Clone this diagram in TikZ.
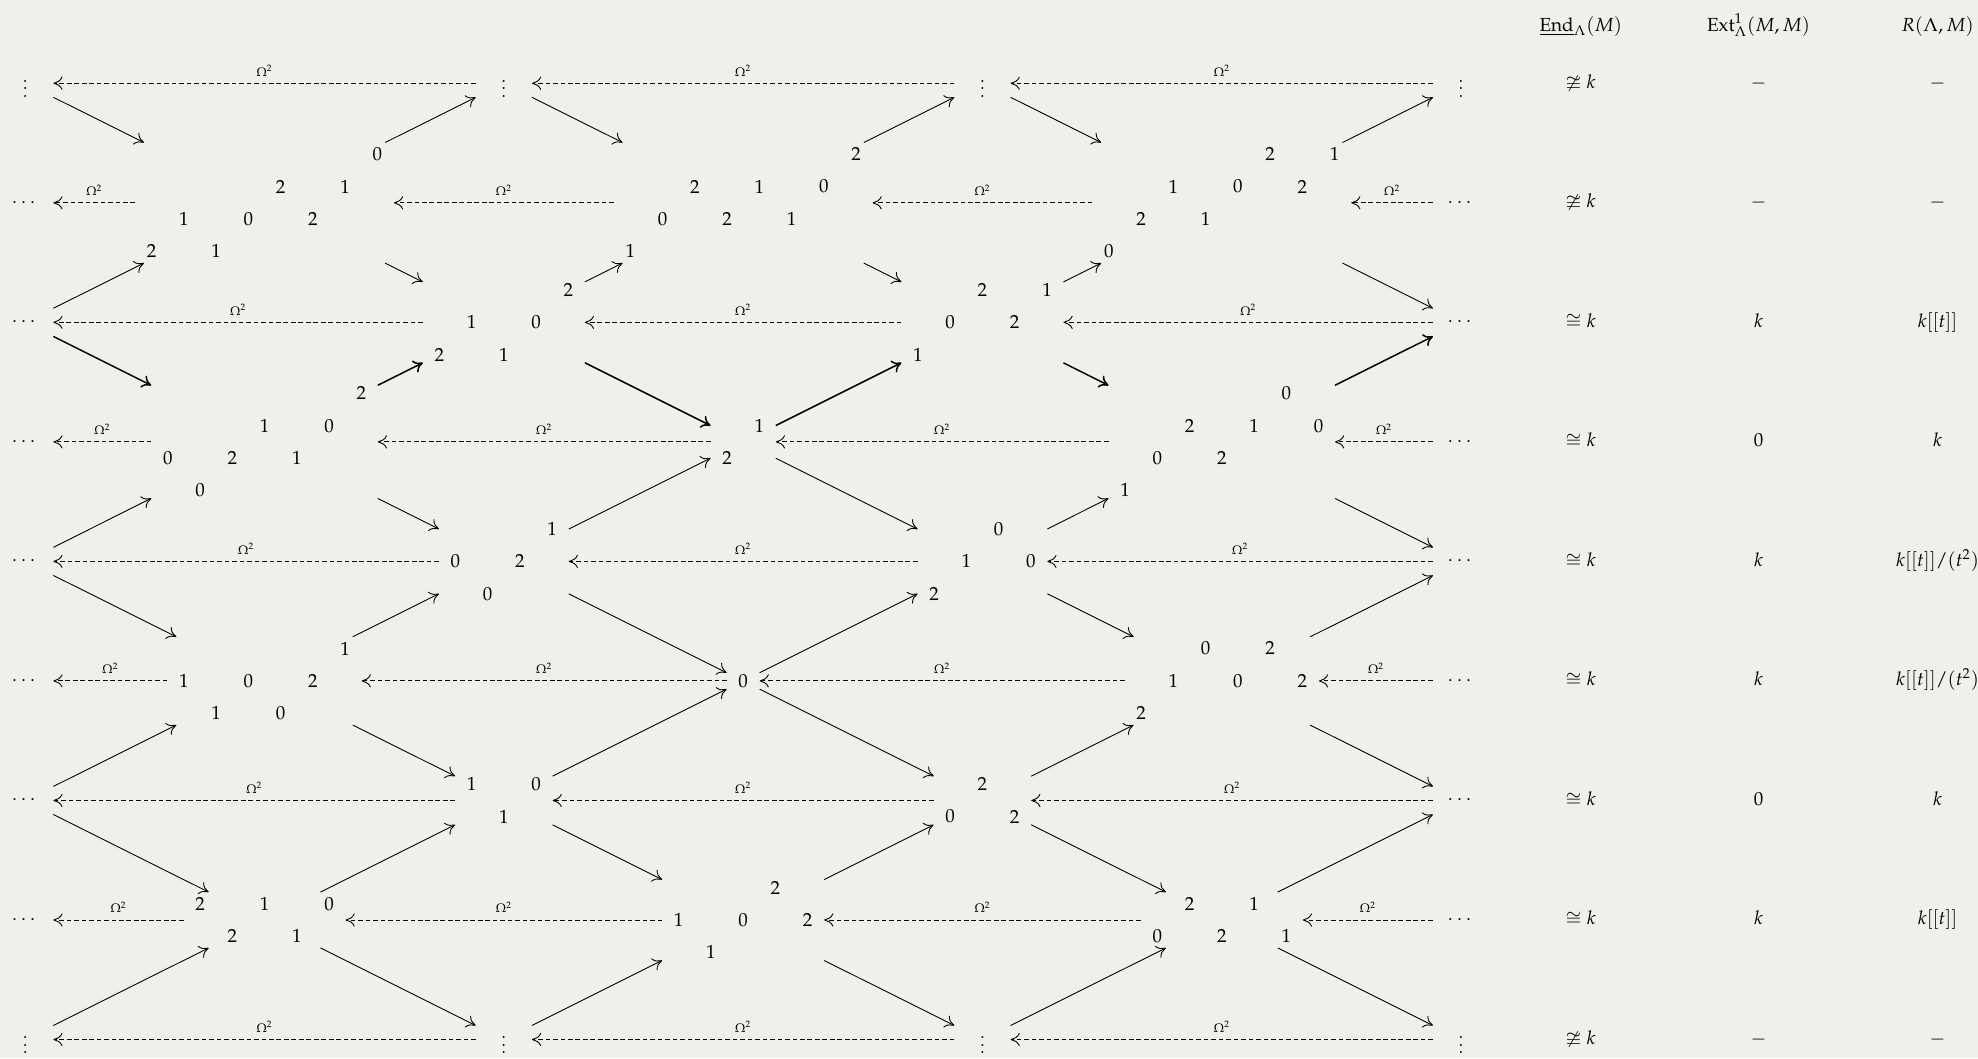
\documentclass[tikz,border=0pt]{standalone}
\usepackage{amsmath, amssymb}
\usepackage{mathpazo}
\usepackage{tikz}
\usetikzlibrary{arrows.meta, matrix}

\definecolor{paper}{RGB}{240,239,233}

\begin{document}
\begin{tikzpicture}[
    x=4.439cm, y=-2.2172cm,
    module/.style={matrix of math nodes, nodes in empty cells, anchor=center,
        inner sep=0pt, column sep=0pt, row sep=1.795mm,
        nodes={minimum width=5.983mm, minimum height=4.21mm, inner sep=0pt, anchor=center}},
    ends/.style={minimum width=10.3mm, minimum height=5.6mm, inner sep=0pt},
    edge/.style={-{Computer Modern Rightarrow[length=1.7mm, width=2.45mm]}, line width=0.47pt},
    heavy/.style={edge, line width=0.8pt},
    omega/.style={edge, dash pattern=on 2.45pt off 1.5pt},
    lbl/.style={midway, above=3.5pt, inner sep=0pt, font=\fontsize{6.5}{7.5}\selectfont},
    tabent/.style={anchor=base, yshift=-2.6pt}
  ]
  \fill[paper] (-0.1054,-0.6966) rectangle (8.1600,8.1583);
  \useasboundingbox (-0.1054,-0.6966) rectangle (8.1600,8.1583);

  % ends of the rows
  \node[ends] (p00) at (0,0) {$\vdots$};
  \node[ends] (p02) at (2,0) {$\vdots$};
  \node[ends] (p04) at (4,0) {$\vdots$};
  \node[ends] (p06) at (6,0) {$\vdots$};
  \node[ends] (p10) at (0,1) {$\cdots$};
  \node[ends] (p16) at (6,1) {$\cdots$};
  \node[ends] (p20) at (0,2) {$\cdots$};
  \node[ends] (p26) at (6,2) {$\cdots$};
  \node[ends] (p30) at (0,3) {$\cdots$};
  \node[ends] (p36) at (6,3) {$\cdots$};
  \node[ends] (p40) at (0,4) {$\cdots$};
  \node[ends] (p46) at (6,4) {$\cdots$};
  \node[ends] (p50) at (0,5) {$\cdots$};
  \node[ends] (p56) at (6,5) {$\cdots$};
  \node[ends] (p60) at (0,6) {$\cdots$};
  \node[ends] (p66) at (6,6) {$\cdots$};
  \node[ends] (p70) at (0,7) {$\cdots$};
  \node[ends] (p76) at (6,7) {$\cdots$};
  \node[ends] (p80) at (0,8) {$\vdots$};
  \node[ends] (p82) at (2,8) {$\vdots$};
  \node[ends] (p84) at (4,8) {$\vdots$};
  \node[ends] (p86) at (6,8) {$\vdots$};

  % modules
  \matrix[module] (p11) at (1,1) {
    &&&&&&&0\\
    &&&&2&&1&\\
    &1&&0&&2&&\\
    2&&1&&&&&\\
  };
  \matrix[module] (p13) at (3,1) {
    &&&&&&&2\\
    &&2&&1&&0&\\
    &0&&2&&1&&\\
    1&&&&&&&\\
  };
  \matrix[module] (p15) at (5,1) {
    &&&&&2&&1\\
    &&1&&0&&2&\\
    &2&&1&&&&\\
    0&&&&&&&\\
  };
  \matrix[module] (p22) at (2,2) {
    &&&&2\\
    &1&&0&\\
    2&&1&&\\
  };
  \matrix[module] (p24) at (4,2) {
    &&2&&1\\
    &0&&2&\\
    1&&&&\\
  };
  \matrix[module] (p31) at (1,3) {
    &&&&&&2\\
    &&&1&&0&\\
    0&&2&&1&&\\
    &0&&&&&\\
  };
  \matrix[module] (p33) at (3,3) {
    &1\\
    2&\\
  };
  \matrix[module] (p35) at (5,3) {
    &&&&&0&\\
    &&2&&1&&0\\
    &0&&2&&&\\
    1&&&&&&\\
  };
  \matrix[module] (p42) at (2,4) {
    &&&1\\
    0&&2&\\
    &0&&\\
  };
  \matrix[module] (p44) at (4,4) {
    &&0&\\
    &1&&0\\
    2&&&\\
  };
  \matrix[module] (p51) at (1,5) {
    &&&&&1\\
    1&&0&&2&\\
    &1&&0&&\\
  };
  \matrix[module] (p53) at (3,5) {
    0\\
  };
  \matrix[module] (p55) at (5,5) {
    &&0&&2&\\
    &1&&0&&2\\
    2&&&&&\\
  };
  \matrix[module] (p62) at (2,6) {
    1&&0\\
    &1&\\
  };
  \matrix[module] (p64) at (4,6) {
    &2&\\
    0&&2\\
  };
  \matrix[module] (p71) at (1,7) {
    2&&1&&0\\
    &2&&1&\\
  };
  \matrix[module] (p73) at (3,7) {
    &&&2&\\
    1&&0&&2\\
    &1&&&\\
  };
  \matrix[module] (p75) at (5,7) {
    &2&&1&\\
    0&&2&&1\\
  };

  % irreducible maps
  \draw[edge] (p00) -- (p11);
  \draw[edge] (p11) -- (p02);
  \draw[edge] (p02) -- (p13);
  \draw[edge] (p13) -- (p04);
  \draw[edge] (p04) -- (p15);
  \draw[edge] (p15) -- (p06);

  \draw[edge] (p20) -- (p11);
  \draw[edge] (p11) -- (p22);
  \draw[edge] (p22) -- (p13);
  \draw[edge] (p13) -- (p24);
  \draw[edge] (p24) -- (p15);
  \draw[edge] (p15) -- (p26);

  \draw[heavy] (p20) -- (p31);
  \draw[heavy] (p31) -- (p22);
  \draw[heavy] (p22) -- (p33);
  \draw[heavy] (p33) -- (p24);
  \draw[heavy] (p24) -- (p35);
  \draw[heavy] (p35) -- (p26);

  \draw[edge] (p40) -- (p31);
  \draw[edge] (p31) -- (p42);
  \draw[edge] (p42) -- (p33);
  \draw[edge] (p33) -- (p44);
  \draw[edge] (p44) -- (p35);
  \draw[edge] (p35) -- (p46);

  \draw[edge] (p40) -- (p51);
  \draw[edge] (p51) -- (p42);
  \draw[edge] (p42) -- (p53);
  \draw[edge] (p53) -- (p44);
  \draw[edge] (p44) -- (p55);
  \draw[edge] (p55) -- (p46);

  \draw[edge] (p60) -- (p51);
  \draw[edge] (p51) -- (p62);
  \draw[edge] (p62) -- (p53);
  \draw[edge] (p53) -- (p64);
  \draw[edge] (p64) -- (p55);
  \draw[edge] (p55) -- (p66);

  \draw[edge] (p60) -- (p71);
  \draw[edge] (p71) -- (p62);
  \draw[edge] (p62) -- (p73);
  \draw[edge] (p73) -- (p64);
  \draw[edge] (p64) -- (p75);
  \draw[edge] (p75) -- (p66);

  \draw[edge] (p80) -- (p71);
  \draw[edge] (p71) -- (p82);
  \draw[edge] (p82) -- (p73);
  \draw[edge] (p73) -- (p84);
  \draw[edge] (p84) -- (p75);
  \draw[edge] (p75) -- (p86);

  % syzygy
  \draw[omega] (p02) -- node[lbl] {$\Omega^2$} (p00);
  \draw[omega] (p04) -- node[lbl] {$\Omega^2$} (p02);
  \draw[omega] (p06) -- node[lbl] {$\Omega^2$} (p04);
  \draw[omega] (p11) -- node[lbl] {$\Omega^2$} (p10);
  \draw[omega] (p13) -- node[lbl] {$\Omega^2$} (p11);
  \draw[omega] (p15) -- node[lbl] {$\Omega^2$} (p13);
  \draw[omega] (p16) -- node[lbl] {$\Omega^2$} (p15);
  \draw[omega] (p22) -- node[lbl] {$\Omega^2$} (p20);
  \draw[omega] (p24) -- node[lbl] {$\Omega^2$} (p22);
  \draw[omega] (p26) -- node[lbl] {$\Omega^2$} (p24);
  \draw[omega] (p31) -- node[lbl] {$\Omega^2$} (p30);
  \draw[omega] (p33) -- node[lbl] {$\Omega^2$} (p31);
  \draw[omega] (p35) -- node[lbl] {$\Omega^2$} (p33);
  \draw[omega] (p36) -- node[lbl] {$\Omega^2$} (p35);
  \draw[omega] (p42) -- node[lbl] {$\Omega^2$} (p40);
  \draw[omega] (p44) -- node[lbl] {$\Omega^2$} (p42);
  \draw[omega] (p46) -- node[lbl] {$\Omega^2$} (p44);
  \draw[omega] (p51) -- node[lbl] {$\Omega^2$} (p50);
  \draw[omega] (p53) -- node[lbl] {$\Omega^2$} (p51);
  \draw[omega] (p55) -- node[lbl] {$\Omega^2$} (p53);
  \draw[omega] (p56) -- node[lbl] {$\Omega^2$} (p55);
  \draw[omega] (p62) -- node[lbl] {$\Omega^2$} (p60);
  \draw[omega] (p64) -- node[lbl] {$\Omega^2$} (p62);
  \draw[omega] (p66) -- node[lbl] {$\Omega^2$} (p64);
  \draw[omega] (p71) -- node[lbl] {$\Omega^2$} (p70);
  \draw[omega] (p73) -- node[lbl] {$\Omega^2$} (p71);
  \draw[omega] (p75) -- node[lbl] {$\Omega^2$} (p73);
  \draw[omega] (p76) -- node[lbl] {$\Omega^2$} (p75);
  \draw[omega] (p82) -- node[lbl] {$\Omega^2$} (p80);
  \draw[omega] (p84) -- node[lbl] {$\Omega^2$} (p82);
  \draw[omega] (p86) -- node[lbl] {$\Omega^2$} (p84);

  % table on the right
  \node[anchor=base] (hend) at (6.5,-0.437) {$\underline{\mathrm{End}}_\Lambda(M)$};
  \node[anchor=base] (hext) at (7.243,-0.437) {$\mathrm{Ext}^1_\Lambda(M,M)$};
  \node[anchor=base] (hrep) at (7.991,-0.437) {$R(\Lambda,M)$};

  \node[tabent] (e0) at (6.5,0) {$\ncong k$};
  \node[tabent] (x0) at (7.243,0) {$-$};
  \node[tabent] (q0) at (7.991,0) {$-$};
  \node[tabent] (e1) at (6.5,1) {$\ncong k$};
  \node[tabent] (x1) at (7.243,1) {$-$};
  \node[tabent] (q1) at (7.991,1) {$-$};
  \node[tabent] (e2) at (6.5,2) {$\cong k$};
  \node[tabent] (x2) at (7.243,2) {$k$};
  \node[tabent] (q2) at (7.991,2) {$k[[t]]$};
  \node[tabent] (e3) at (6.5,3) {$\cong k$};
  \node[tabent] (x3) at (7.243,3) {$0$};
  \node[tabent] (q3) at (7.991,3) {$k$};
  \node[tabent] (e4) at (6.5,4) {$\cong k$};
  \node[tabent] (x4) at (7.243,4) {$k$};
  \node[tabent] (q4) at (7.991,4) {$k[[t]]/(t^2)$};
  \node[tabent] (e5) at (6.5,5) {$\cong k$};
  \node[tabent] (x5) at (7.243,5) {$k$};
  \node[tabent] (q5) at (7.991,5) {$k[[t]]/(t^2)$};
  \node[tabent] (e6) at (6.5,6) {$\cong k$};
  \node[tabent] (x6) at (7.243,6) {$0$};
  \node[tabent] (q6) at (7.991,6) {$k$};
  \node[tabent] (e7) at (6.5,7) {$\cong k$};
  \node[tabent] (x7) at (7.243,7) {$k$};
  \node[tabent] (q7) at (7.991,7) {$k[[t]]$};
  \node[tabent] (e8) at (6.5,8) {$\ncong k$};
  \node[tabent] (x8) at (7.243,8) {$-$};
  \node[tabent] (q8) at (7.991,8) {$-$};
\end{tikzpicture}
\end{document}
